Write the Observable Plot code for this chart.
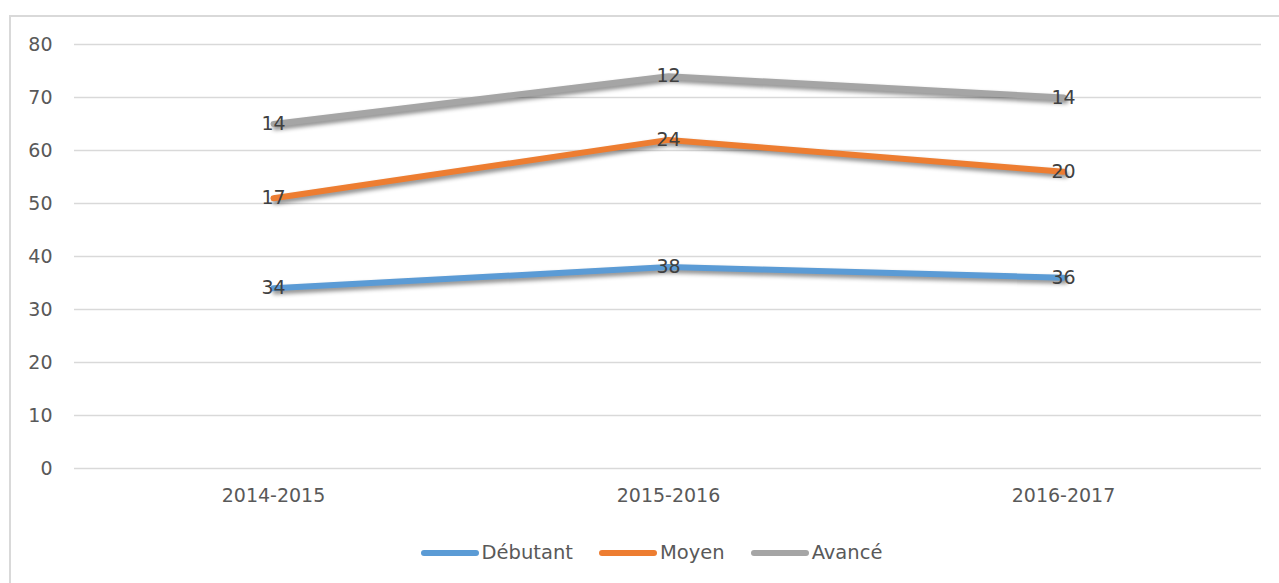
<!DOCTYPE html>
<html>
<head>
<meta charset="utf-8">
<script src="https://cdn.jsdelivr.net/npm/d3@7"></script>
<script src="https://cdn.jsdelivr.net/npm/@observablehq/plot@0.6"></script>
<style>
  body { margin: 0; background: #fff; }
  #wrap { position: relative; width: 1279px; height: 583px; overflow: hidden; background: #fff; }
  #border { position: absolute; left: 9px; top: 15px; width: 1300px; height: 620px; border: 2px solid #d9d9d9; box-sizing: border-box; pointer-events: none; }
  #chart { position: absolute; left: 0; top: 0; }
  #legend { position: absolute; left: 0; top: 541px; width: 1279px; display: flex; justify-content: center; font-family: "DejaVu Sans", sans-serif; font-size: 19.5px; color: #595959; padding-left: 24px; box-sizing: border-box; }
  .item { display: flex; align-items: center; margin: 0 13px; }
  .sw { width: 58px; height: 6px; border-radius: 3px; margin-right: 3px; }
</style>
</head>
<body>
<div id="wrap">
  <div id="border"></div>
  <div id="chart"></div>
  <div id="legend"></div>
</div>
<script>
const years = ["2014-2015", "2015-2016", "2016-2017"];
const seriesNames = ["Débutant", "Moyen", "Avancé"];
const debutant = [34, 38, 36];
const moyen = [17, 24, 20];
const avance = [14, 12, 14];
const colors = ["#5B9BD5", "#ED7D31", "#A5A5A5"];
const yTicks = [0, 10, 20, 30, 40, 50, 60, 70, 80];

const seriesValues = [debutant, moyen, avance];
const rows = [];
seriesNames.forEach((s, i) => {
  years.forEach((yr, j) => rows.push({ series: s, year: yr, value: seriesValues[i][j] }));
});

const plot = Plot.plot({
  width: 1279,
  height: 583,
  marginLeft: 74,
  marginRight: 18,
  marginTop: 44,
  marginBottom: 115,
  style: { fontFamily: "DejaVu Sans, sans-serif", fontSize: "19px", color: "#595959", background: "transparent", overflow: "visible" },
  x: { type: "point", domain: years, padding: 0.5, label: null },
  y: { domain: [0, 80], label: null },
  color: { domain: seriesNames, range: colors },
  marks: [
    Plot.ruleY(yTicks, { stroke: "#d9d9d9", strokeWidth: 1.5 }),
    Plot.axisY(yTicks, { tickSize: 0, tickPadding: 22, label: null, fill: "#595959" }),
    Plot.axisX({ tickSize: 0, tickPadding: 20, label: null, fill: "#595959" }),
    Plot.lineY(rows, Plot.stackY2({ x: "year", y: "value", z: "series", stroke: "series", strokeWidth: 6, strokeLinecap: "round", strokeLinejoin: "round" })),
    Plot.text(rows, Plot.stackY2({ x: "year", y: "value", z: "series", text: d => String(d.value), fill: "#404040", fontSize: 19 }))
  ]
});
document.getElementById("chart").appendChild(plot);
d3.select(plot).selectAll('g[aria-label="line"] path')
  .style("filter", "drop-shadow(2px 3px 2px rgba(0,0,0,0.45))");

const legend = document.getElementById("legend");
seriesNames.forEach((s, i) => {
  const item = document.createElement("div");
  item.className = "item";
  const sw = document.createElement("div");
  sw.className = "sw";
  sw.style.background = colors[i];
  const lab = document.createElement("span");
  lab.textContent = s;
  item.appendChild(sw);
  item.appendChild(lab);
  legend.appendChild(item);
});
</script>
</body>
</html>
